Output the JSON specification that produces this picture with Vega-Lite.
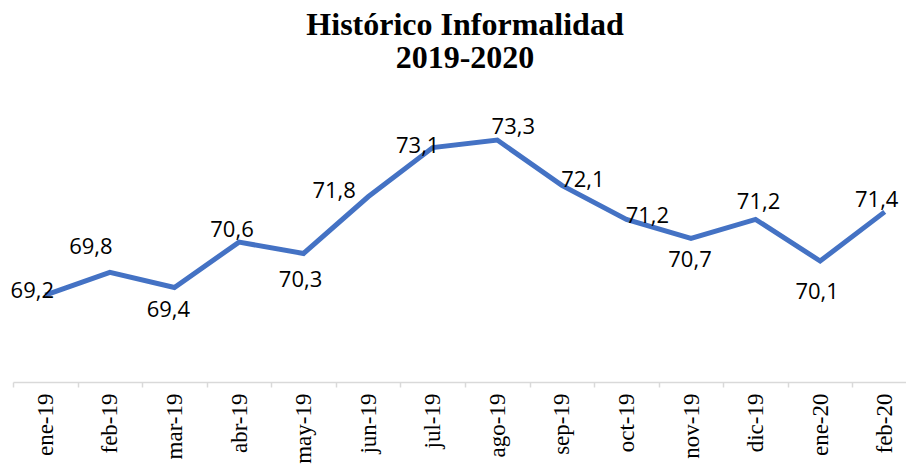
{
  "$schema": "https://vega.github.io/schema/vega-lite/v6.json",
  "autosize": {"type": "none"},
  "padding": {"left": 13, "top": 72, "right": 0, "bottom": 86},
  "width": 904,
  "height": 310,
  "background": "white",
  "config": {
    "view": {"stroke": null},
    "locale": {"number": {"decimal": ",", "thousands": ".", "grouping": [3], "currency": ["$", ""]}}
  },
  "title": {
    "text": ["Histórico Informalidad", "2019-2020"],
    "font": "Liberation Serif",
    "fontSize": 32,
    "fontWeight": "bold",
    "color": "#000000",
    "lineHeight": 33,
    "anchor": "middle",
    "offset": -3
  },
  "data": {
    "values": [
      {"mes": "ene-19", "valor": 69.2},
      {"mes": "feb-19", "valor": 69.8},
      {"mes": "mar-19", "valor": 69.4},
      {"mes": "abr-19", "valor": 70.6},
      {"mes": "may-19", "valor": 70.3},
      {"mes": "jun-19", "valor": 71.8},
      {"mes": "jul-19", "valor": 73.1},
      {"mes": "ago-19", "valor": 73.3},
      {"mes": "sep-19", "valor": 72.1},
      {"mes": "oct-19", "valor": 71.2},
      {"mes": "nov-19", "valor": 70.7},
      {"mes": "dic-19", "valor": 71.2},
      {"mes": "ene-20", "valor": 70.1},
      {"mes": "feb-20", "valor": 71.4}
    ]
  },
  "encoding": {
    "x": {
      "field": "mes",
      "type": "nominal",
      "sort": null,
      "scale": {"type": "band", "paddingInner": 0, "paddingOuter": 0},
      "axis": {
        "title": null,
        "labelAngle": -90,
        "labelFont": "Liberation Serif",
        "labelFontSize": 23,
        "labelColor": "#000000",
        "labelPadding": 6,
        "domainColor": "#d9d9d9",
        "domainWidth": 1.5,
        "tickColor": "#d9d9d9",
        "tickWidth": 1.5,
        "tickSize": 5,
        "tickBand": "extent",
        "grid": false
      }
    },
    "y": {
      "field": "valor",
      "type": "quantitative",
      "scale": {"domain": [66.9, 75.1], "nice": false, "zero": false},
      "axis": null
    }
  },
  "layer": [
    {"mark": {"type": "line", "color": "#4472C4", "strokeWidth": 5, "strokeJoin": "miter", "strokeCap": "butt"}},
    {"transform": [{"filter": "datum.mes === 'ene-19'"}], "mark": {"type": "text", "font": "Open Sans", "fontSize": 22, "color": "#000000", "dx": -13, "dy": -4}, "encoding": {"text": {"field": "valor", "type": "quantitative", "format": ".1f"}}},
    {"transform": [{"filter": "datum.mes === 'feb-19'"}], "mark": {"type": "text", "font": "Open Sans", "fontSize": 22, "color": "#000000", "dx": -19, "dy": -25}, "encoding": {"text": {"field": "valor", "type": "quantitative", "format": ".1f"}}},
    {"transform": [{"filter": "datum.mes === 'mar-19'"}], "mark": {"type": "text", "font": "Open Sans", "fontSize": 22, "color": "#000000", "dx": -6, "dy": 23}, "encoding": {"text": {"field": "valor", "type": "quantitative", "format": ".1f"}}},
    {"transform": [{"filter": "datum.mes === 'abr-19'"}], "mark": {"type": "text", "font": "Open Sans", "fontSize": 22, "color": "#000000", "dx": -7, "dy": -12}, "encoding": {"text": {"field": "valor", "type": "quantitative", "format": ".1f"}}},
    {"transform": [{"filter": "datum.mes === 'may-19'"}], "mark": {"type": "text", "font": "Open Sans", "fontSize": 22, "color": "#000000", "dx": -3, "dy": 27}, "encoding": {"text": {"field": "valor", "type": "quantitative", "format": ".1f"}}},
    {"transform": [{"filter": "datum.mes === 'jun-19'"}], "mark": {"type": "text", "font": "Open Sans", "fontSize": 22, "color": "#000000", "dx": -34, "dy": -6}, "encoding": {"text": {"field": "valor", "type": "quantitative", "format": ".1f"}}},
    {"transform": [{"filter": "datum.mes === 'jul-19'"}], "mark": {"type": "text", "font": "Open Sans", "fontSize": 22, "color": "#000000", "dx": -15, "dy": -2}, "encoding": {"text": {"field": "valor", "type": "quantitative", "format": ".1f"}}},
    {"transform": [{"filter": "datum.mes === 'ago-19'"}], "mark": {"type": "text", "font": "Open Sans", "fontSize": 22, "color": "#000000", "dx": 16, "dy": -13}, "encoding": {"text": {"field": "valor", "type": "quantitative", "format": ".1f"}}},
    {"transform": [{"filter": "datum.mes === 'sep-19'"}], "mark": {"type": "text", "font": "Open Sans", "fontSize": 22, "color": "#000000", "dx": 21, "dy": -5}, "encoding": {"text": {"field": "valor", "type": "quantitative", "format": ".1f"}}},
    {"transform": [{"filter": "datum.mes === 'oct-19'"}], "mark": {"type": "text", "font": "Open Sans", "fontSize": 22, "color": "#000000", "dx": 21, "dy": -3}, "encoding": {"text": {"field": "valor", "type": "quantitative", "format": ".1f"}}},
    {"transform": [{"filter": "datum.mes === 'nov-19'"}], "mark": {"type": "text", "font": "Open Sans", "fontSize": 22, "color": "#000000", "dx": -1, "dy": 22}, "encoding": {"text": {"field": "valor", "type": "quantitative", "format": ".1f"}}},
    {"transform": [{"filter": "datum.mes === 'dic-19'"}], "mark": {"type": "text", "font": "Open Sans", "fontSize": 22, "color": "#000000", "dx": 3, "dy": -17}, "encoding": {"text": {"field": "valor", "type": "quantitative", "format": ".1f"}}},
    {"transform": [{"filter": "datum.mes === 'ene-20'"}], "mark": {"type": "text", "font": "Open Sans", "fontSize": 22, "color": "#000000", "dx": -3, "dy": 31}, "encoding": {"text": {"field": "valor", "type": "quantitative", "format": ".1f"}}},
    {"transform": [{"filter": "datum.mes === 'feb-20'"}], "mark": {"type": "text", "font": "Open Sans", "fontSize": 22, "color": "#000000", "dx": -8, "dy": -12}, "encoding": {"text": {"field": "valor", "type": "quantitative", "format": ".1f"}}}
  ]
}
